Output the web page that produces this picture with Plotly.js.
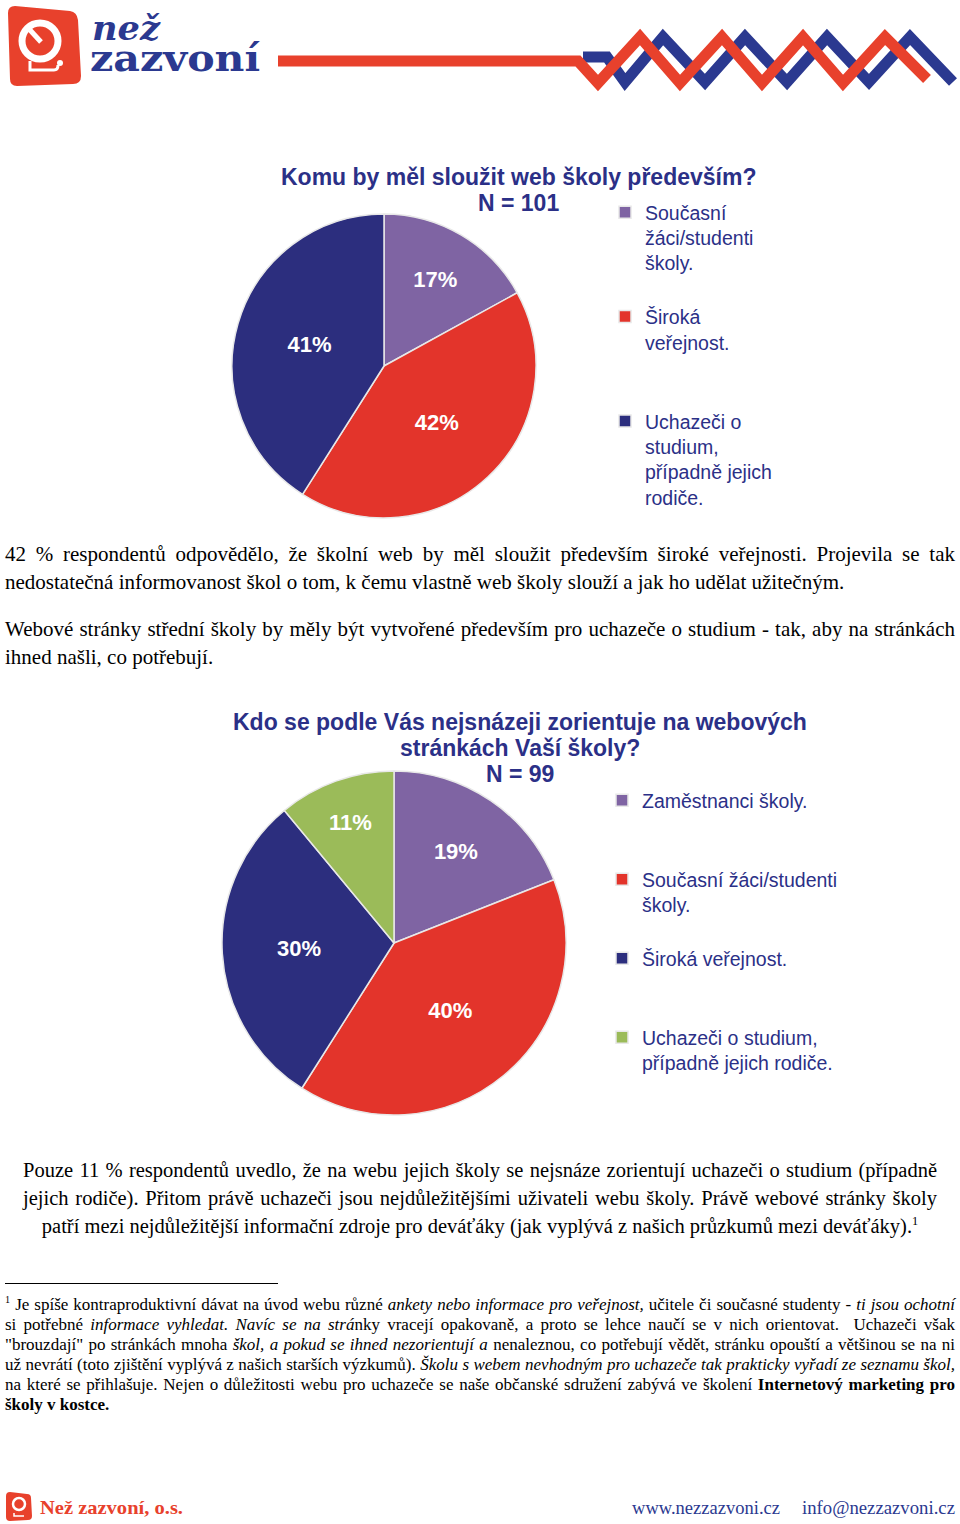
<!DOCTYPE html>
<html><head><meta charset="utf-8">
<script src="https://cdn.plot.ly/plotly-3.0.1.min.js"></script>
<style>
body{margin:0;width:960px;height:1524px;position:relative;background:#fff;overflow:hidden;font-family:'Liberation Serif','Times New Roman',serif;color:#000}
.abs{position:absolute}
.p{font-size:21px;line-height:28px;text-align:justify;margin:0}
.p3{font-size:20.5px;line-height:28px;margin:0}
.j{text-align:justify;text-align-last:justify}
.c{text-align:center}
.fn{font-size:17px;line-height:20px;margin:0}
sup{font-size:60%;line-height:0;vertical-align:super}
</style></head><body>

<svg class="abs" style="left:0;top:0" width="960" height="100">
  <path d="M8,13 Q8,6 15,6 L70,11 Q77,12 78,20 L81,76 Q81,84 73,84 L17,86 Q10,86 10,79 Z" fill="#E8412C"/>
  <circle cx="40" cy="41" r="18" fill="none" stroke="#fff" stroke-width="7"/>
  <line x1="41" y1="42" x2="30" y2="30" stroke="#fff" stroke-width="5"/>
  <path d="M30,61 L30,70 L54,70 Q58,70 58,65" fill="none" stroke="#fff" stroke-width="3"/>
  <circle cx="60" cy="63" r="3" fill="#fff"/>
  <text font-family="DejaVu Serif" font-weight="bold" fill="#2B3990"><tspan x="92" y="40" font-style="italic" font-size="33" textLength="68" lengthAdjust="spacingAndGlyphs">než</tspan><tspan x="90" y="71" font-size="37" textLength="170" lengthAdjust="spacingAndGlyphs">zazvoní</tspan></text>
  <polyline points="583,57 607,57 625,82 663,37 705,82 745,37 787,82 827,37 869,82 910,37 953,82" fill="none" stroke="#2B3990" stroke-width="11"/>
  <polyline points="278,61 578,61 598,83 640,37 680,83 722,37 762,83 803,37 843,83 885,37 927,79" fill="none" stroke="#E8412C" stroke-width="11"/>
</svg>

<div id="chart1" class="abs" style="left:0;top:150px;width:960px;height:380px"></div>

<p class="p abs" style="left:5px;top:540px;width:950px">42 % respondentů odpovědělo, že školní web by měl sloužit především široké veřejnosti. Projevila se tak nedostatečná informovanost škol o tom, k čemu vlastně web školy slouží a jak ho udělat užitečným.</p>
<p class="p abs" style="left:5px;top:615px;width:950px">Webové stránky střední školy by měly být vytvořené především pro uchazeče o studium - tak, aby na stránkách ihned našli, co potřebují.</p>

<div id="chart2" class="abs" style="left:0;top:700px;width:960px;height:420px"></div>

<div class="p3 abs" style="left:23px;top:1156px;width:914px">
  <div class="j">Pouze 11 % respondentů uvedlo, že na webu jejich školy se nejsnáze zorientují uchazeči o studium (případně</div>
  <div class="j">jejich rodiče). Přitom právě uchazeči jsou nejdůležitějšími uživateli webu školy. Právě webové stránky školy</div>
  <div class="c">patří mezi nejdůležitější informační zdroje pro deváťáky (jak vyplývá z našich průzkumů mezi deváťáky).<sup>1</sup></div>
</div>

<div class="abs" style="left:5px;top:1283px;width:273px;height:1px;background:#000"></div>
<div class="fn abs" style="left:5px;top:1295px;width:950px">
  <div class="j"><sup>1</sup> Je spíše kontraproduktivní dávat na úvod webu různé <i>ankety nebo informace pro veřejnost,</i> učitele či současné studenty - <i>ti jsou ochotní</i></div>
  <div class="j">si potřebné <i>informace vyhledat. Navíc se na strá</i>nky vracejí opakovaně, a proto se lehce naučí se v nich orientovat.&nbsp; Uchazeči však</div>
  <div class="j">"brouzdají" po stránkách mnoha <i>škol, a pokud se ihned nezorientují a</i> nenaleznou, co potřebují vědět, stránku opouští a většinou se na ni</div>
  <div class="j">už nevrátí (toto zjištění vyplývá z našich starších výzkumů). <i>Školu s webem nevhodným pro uchazeče tak prakticky vyřadí ze seznamu škol,</i></div>
  <div class="j">na které se přihlašuje. Nejen o důležitosti webu pro uchazeče se naše občanské sdružení zabývá ve školení <b>Internetový marketing pro</b></div>
  <div><b>školy v kostce.</b></div>
</div>

<svg class="abs" style="left:0;top:1488px" width="960" height="36">
  <path d="M6,8 Q6,4 10,4 L27,6 Q31,6 31,10 L32,28 Q32,32 28,32 L10,33 Q6,33 6,29 Z" fill="#E8412C"/>
  <circle cx="19" cy="16" r="6" fill="none" stroke="#fff" stroke-width="2.5"/>
  <path d="M14,25 L14,28 L24,28" fill="none" stroke="#fff" stroke-width="1.5"/>
  <text x="40" y="26" font-family="Liberation Serif" font-weight="bold" font-size="19" fill="#E8412C" textLength="143" lengthAdjust="spacingAndGlyphs">Než zazvoní, o.s.</text>
  <text x="632" y="26" font-family="Liberation Serif" font-size="19" fill="#2B3990" textLength="148" lengthAdjust="spacingAndGlyphs">www.nezzazvoni.cz</text>
  <text x="802" y="26" font-family="Liberation Serif" font-size="19" fill="#2B3990" textLength="153" lengthAdjust="spacingAndGlyphs">info@nezzazvoni.cz</text>
</svg>

<script>
// ---- data ----
var title1 = ['Komu by měl sloužit web školy především?', 'N = 101'];
var labels1 = ['Současní<br>žáci/studenti<br>školy.', 'Široká<br>veřejnost.', 'Uchazeči o<br>studium,<br>případně jejich<br>rodiče.'];
var values1 = [17, 42, 41];

var title2 = ['Kdo se podle Vás nejsnázeji zorientuje na webových', 'stránkách Vaší školy?', 'N = 99'];
var labels2 = ['Zaměstnanci školy.', 'Současní žáci/studenti<br>školy.', 'Široká veřejnost.', 'Uchazeči o studium,<br>případně jejich rodiče.'];
var values2 = [19, 40, 30, 11];

var colors1 = ['#7F64A3', '#E3342B', '#2C2E7E'];
var colors2 = ['#7F64A3', '#E3342B', '#2C2E7E', '#9BBB59'];

// ---- styling ----
var SANS = 'Liberation Sans, Arial, sans-serif';
var NAVY = '#2B3087';

function pad(label, lines) {
  var n = label.split('<br>').length;
  var s = label;
  for (var i = n; i < lines; i++) s += '<br>\u00a0';
  return s;
}

function makePie(id, W, H, labels, values, colors, lines, titleLines, dom, leg, titleTop) {
  var trace = {
    type: 'pie', sort: false, direction: 'clockwise', rotation: 0,
    labels: labels.map(function (l) { return pad(l, lines); }),
    values: values,
    marker: { colors: colors, line: { color: '#E8E8E8', width: 1.5 } },
    textinfo: 'percent', textposition: 'inside', insidetextorientation: 'horizontal',
    textfont: { family: SANS, size: 22, color: '#FFFFFF', weight: 'bold' },
    domain: { x: dom.x, y: dom.y }, hoverinfo: 'none'
  };
  var ann = titleLines.map(function (t, i) {
    return { text: '<b>' + t + '</b>', showarrow: false, xref: 'paper', yref: 'paper',
      x: dom.tx, xanchor: 'center', y: 1 - (titleTop + i * 26) / H, yanchor: 'middle',
      font: { family: SANS, size: 23, color: NAVY } };
  });
  var layout = {
    width: W, height: H, margin: { l: 0, r: 0, t: 0, b: 0 },
    paper_bgcolor: 'rgba(0,0,0,0)', plot_bgcolor: 'rgba(0,0,0,0)',
    showlegend: true, annotations: ann,
    legend: { x: leg.x, xanchor: 'left', y: leg.y, yanchor: 'top', valign: 'top',
      font: { family: SANS, size: 19.5, color: NAVY }, bgcolor: 'rgba(0,0,0,0)', borderwidth: 0 }
  };
  Plotly.newPlot(id, [trace], layout, { staticPlot: true, displayModeBar: false });
}

makePie('chart1', 960, 380, labels1, values1, colors1, 4, title1,
  { x: [232 / 960, 536 / 960], y: [12 / 380, 316 / 380], tx: 518 / 960 },
  { x: 605 / 960, y: (380 - 43) / 380 }, 27);

makePie('chart2', 960, 420, labels2, values2, colors2, 3, title2,
  { x: [222 / 960, 566 / 960], y: [5 / 420, 349 / 420], tx: 520 / 960 },
  { x: 602 / 960, y: (420 - 81) / 420 }, 22);
</script>
</body></html>
